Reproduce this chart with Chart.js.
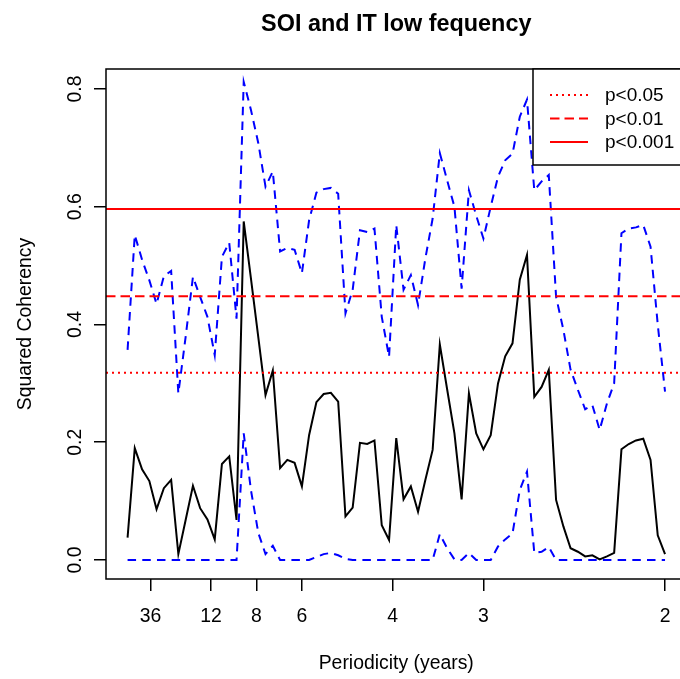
<!DOCTYPE html>
<html><head><meta charset="utf-8">
<script src="https://cdn.jsdelivr.net/npm/chart.js@4.4.1/dist/chart.umd.min.js"></script>
<style>html,body{margin:0;padding:0;overflow:hidden;background:#fff}</style>
</head><body>
<canvas id="c" width="700" height="679" style="display:block;width:700px;height:679px"></canvas>
<script>
// ---- data (frequency in cycles/year, periodicity = 1/frequency) ----
const frequency = [0.0067,0.0133,0.0200,0.0267,0.0333,0.0400,0.0467,0.0533,0.0600,0.0667,
  0.0733,0.0800,0.0867,0.0933,0.1000,0.1067,0.1133,0.1200,0.1267,0.1333,
  0.1400,0.1467,0.1533,0.1600,0.1667,0.1733,0.1800,0.1867,0.1933,0.2000,
  0.2067,0.2133,0.2200,0.2267,0.2333,0.2400,0.2467,0.2533,0.2600,0.2667,
  0.2733,0.2800,0.2867,0.2933,0.3000,0.3067,0.3133,0.3200,0.3267,0.3333,
  0.3400,0.3467,0.3533,0.3600,0.3667,0.3733,0.3800,0.3867,0.3933,0.4000,
  0.4067,0.4133,0.4200,0.4267,0.4333,0.4400,0.4467,0.4533,0.4600,0.4667,
  0.4733,0.4800,0.4867,0.4933,0.5000];
const coherency = [0.038,0.190,0.154,0.134,0.086,0.122,0.136,0.010,0.068,0.126,
  0.088,0.069,0.035,0.163,0.176,0.068,0.575,0.477,0.378,0.280,
  0.322,0.156,0.170,0.165,0.125,0.212,0.268,0.282,0.284,0.269,
  0.074,0.089,0.199,0.197,0.203,0.059,0.034,0.207,0.103,0.125,
  0.082,0.136,0.187,0.366,0.290,0.215,0.103,0.283,0.215,0.188,
  0.212,0.300,0.346,0.368,0.476,0.518,0.277,0.294,0.323,0.102,
  0.057,0.020,0.014,0.006,0.008,0.001,0.006,0.012,0.188,0.197,
  0.203,0.206,0.170,0.042,0.010];
const upperBound = [0.357,0.552,0.510,0.475,0.435,0.482,0.491,0.283,0.379,0.481,
  0.447,0.413,0.348,0.515,0.539,0.410,0.812,0.764,0.708,0.634,
  0.660,0.524,0.530,0.527,0.487,0.577,0.624,0.630,0.632,0.622,
  0.419,0.459,0.560,0.557,0.563,0.413,0.345,0.569,0.459,0.484,
  0.433,0.512,0.580,0.691,0.645,0.600,0.461,0.628,0.585,0.546,
  0.600,0.651,0.679,0.690,0.753,0.782,0.628,0.643,0.654,0.447,
  0.391,0.323,0.289,0.256,0.263,0.221,0.266,0.300,0.555,0.563,
  0.565,0.569,0.532,0.400,0.286];
const lowerBound = [0,0,0,0,0,0,0,0,0,0,
  0,0,0,0,0,0,0.215,0.118,0.046,0.010,
  0.024,0,0,0,0,0,0.005,0.010,0.012,0.008,
  0.002,0,0,0,0,0,0,0,0,0,
  0,0,0,0.044,0.020,0.001,0,0.012,0,0,
  0,0.023,0.035,0.045,0.119,0.150,0.012,0.014,0.022,0,
  0,0,0,0,0,0,0,0,0,0,
  0,0,0,0,0];
const thresholdValues = [0.318, 0.448, 0.596];
const thresholdLabels = ['p<0.05', 'p<0.01', 'p<0.001'];
const xTickPeriods = [36, 12, 8, 6, 4, 3, 2];
const xTickLabels = ['36', '12', '8', '6', '4', '3', '2'];
const yTickValues = [0, 0.2, 0.4, 0.6, 0.8];
const titleText = 'SOI and IT low fequency';
const xTitle = 'Periodicity (years)';
const yTitle = 'Squared Coherency';

const FONT = '"Liberation Sans", Arial, Helvetica, sans-serif';
const thrDash = [[2, 4], [9.5, 5], []];

const pts = arr => frequency.map((f, i) => ({x: f, y: arr[i]}));

const decor = {
  id: 'decor',
  afterDatasetsDraw(chart) {
    const {ctx, chartArea: a, scales: {y}} = chart;
    ctx.save();
    ctx.beginPath(); ctx.rect(a.left, a.top, a.right - a.left, a.bottom - a.top); ctx.clip();
    ctx.strokeStyle = '#ff0000'; ctx.lineWidth = 2;
    thresholdValues.forEach((v, i) => {
      const py = y.getPixelForValue(v);
      ctx.setLineDash(thrDash[i]);
      ctx.beginPath(); ctx.moveTo(a.left, py); ctx.lineTo(a.right, py); ctx.stroke();
    });
    ctx.restore();
  },
  afterDraw(chart) {
    const {ctx, chartArea: a} = chart;
    ctx.save();
    // plot box
    ctx.setLineDash([]);
    ctx.strokeStyle = '#000'; ctx.lineWidth = 1.5;
    ctx.strokeRect(a.left, a.top, a.right - a.left, a.bottom - a.top);
    // legend
    const lw = 153.5, lh = 96;
    const lx = a.right - lw, ly = a.top;
    ctx.fillStyle = '#fff';
    ctx.fillRect(lx, ly, lw, lh);
    ctx.strokeRect(lx, ly, lw, lh);
    ctx.font = '19px ' + FONT;
    ctx.textBaseline = 'middle'; ctx.textAlign = 'left';
    thresholdLabels.forEach((lab, i) => {
      const ry = ly + 26 + i * 23.5;
      ctx.strokeStyle = '#ff0000'; ctx.lineWidth = 2;
      ctx.setLineDash(thrDash[i]);
      ctx.beginPath(); ctx.moveTo(lx + 17, ry); ctx.lineTo(lx + 55, ry); ctx.stroke();
      ctx.fillStyle = '#000';
      ctx.fillText(lab, lx + 72, ry + 1);
    });
    ctx.setLineDash([]);
    // titles
    const cx = (a.left + a.right) / 2;
    ctx.fillStyle = '#000';
    ctx.textAlign = 'center'; ctx.textBaseline = 'alphabetic';
    ctx.font = 'bold 23.4px ' + FONT;
    ctx.fillText(titleText, cx, 30.5);
    ctx.font = '19.4px ' + FONT;
    ctx.fillText(xTitle, cx, 669);
    ctx.translate(31, (a.top + a.bottom) / 2);
    ctx.rotate(-Math.PI / 2);
    ctx.fillText(yTitle, 0, 0);
    ctx.restore();
  }
};

new Chart(document.getElementById('c'), {
  type: 'line',
  data: {
    datasets: [
      {label: 'upper', data: pts(upperBound), borderColor: '#0000ff', borderWidth: 2, borderDash: [8.5, 6.2], pointRadius: 0, tension: 0, fill: false},
      {label: 'lower', data: pts(lowerBound), borderColor: '#0000ff', borderWidth: 2, borderDash: [8.5, 6.2], pointRadius: 0, tension: 0, fill: false},
      {label: 'coherency', data: pts(coherency), borderColor: '#000000', borderWidth: 2, pointRadius: 0, tension: 0, fill: false}
    ]
  },
  options: {
    responsive: false,
    devicePixelRatio: 1,
    animation: false,
    events: [],
    layout: {padding: {top: 69, right: 13.5, left: 0, bottom: 0}},
    plugins: {legend: {display: false}, tooltip: {enabled: false}, title: {display: false}},
    scales: {
      x: {
        type: 'linear', min: -0.0131, max: 0.5197,
        afterBuildTicks: s => { s.ticks = xTickPeriods.map(p => ({value: 1 / p})); },
        afterFit: s => { s.height = 100; },
        border: {display: false},
        grid: {display: true, drawOnChartArea: false, drawTicks: true, tickLength: 12, color: '#000', lineWidth: 1.5},
        ticks: {
          autoSkip: false, maxRotation: 0, minRotation: 0, padding: 14.4, color: '#000',
          font: {family: FONT, size: 19.4},
          callback: (v, i) => xTickLabels[i]
        }
      },
      y: {
        type: 'linear', min: -0.0323, max: 0.834,
        afterBuildTicks: s => { s.ticks = yTickValues.map(v => ({value: v})); },
        afterFit: s => { s.width = 106; },
        border: {display: false},
        grid: {display: true, drawOnChartArea: false, drawTicks: true, tickLength: 12, color: '#000', lineWidth: 1.5},
        ticks: {
          autoSkip: false, minRotation: 90, maxRotation: 90, crossAlign: 'center', padding: 5, color: '#000',
          font: {family: FONT, size: 19.4},
          callback: v => v.toFixed(1)
        }
      }
    }
  },
  plugins: [decor]
});
</script>
</body></html>
